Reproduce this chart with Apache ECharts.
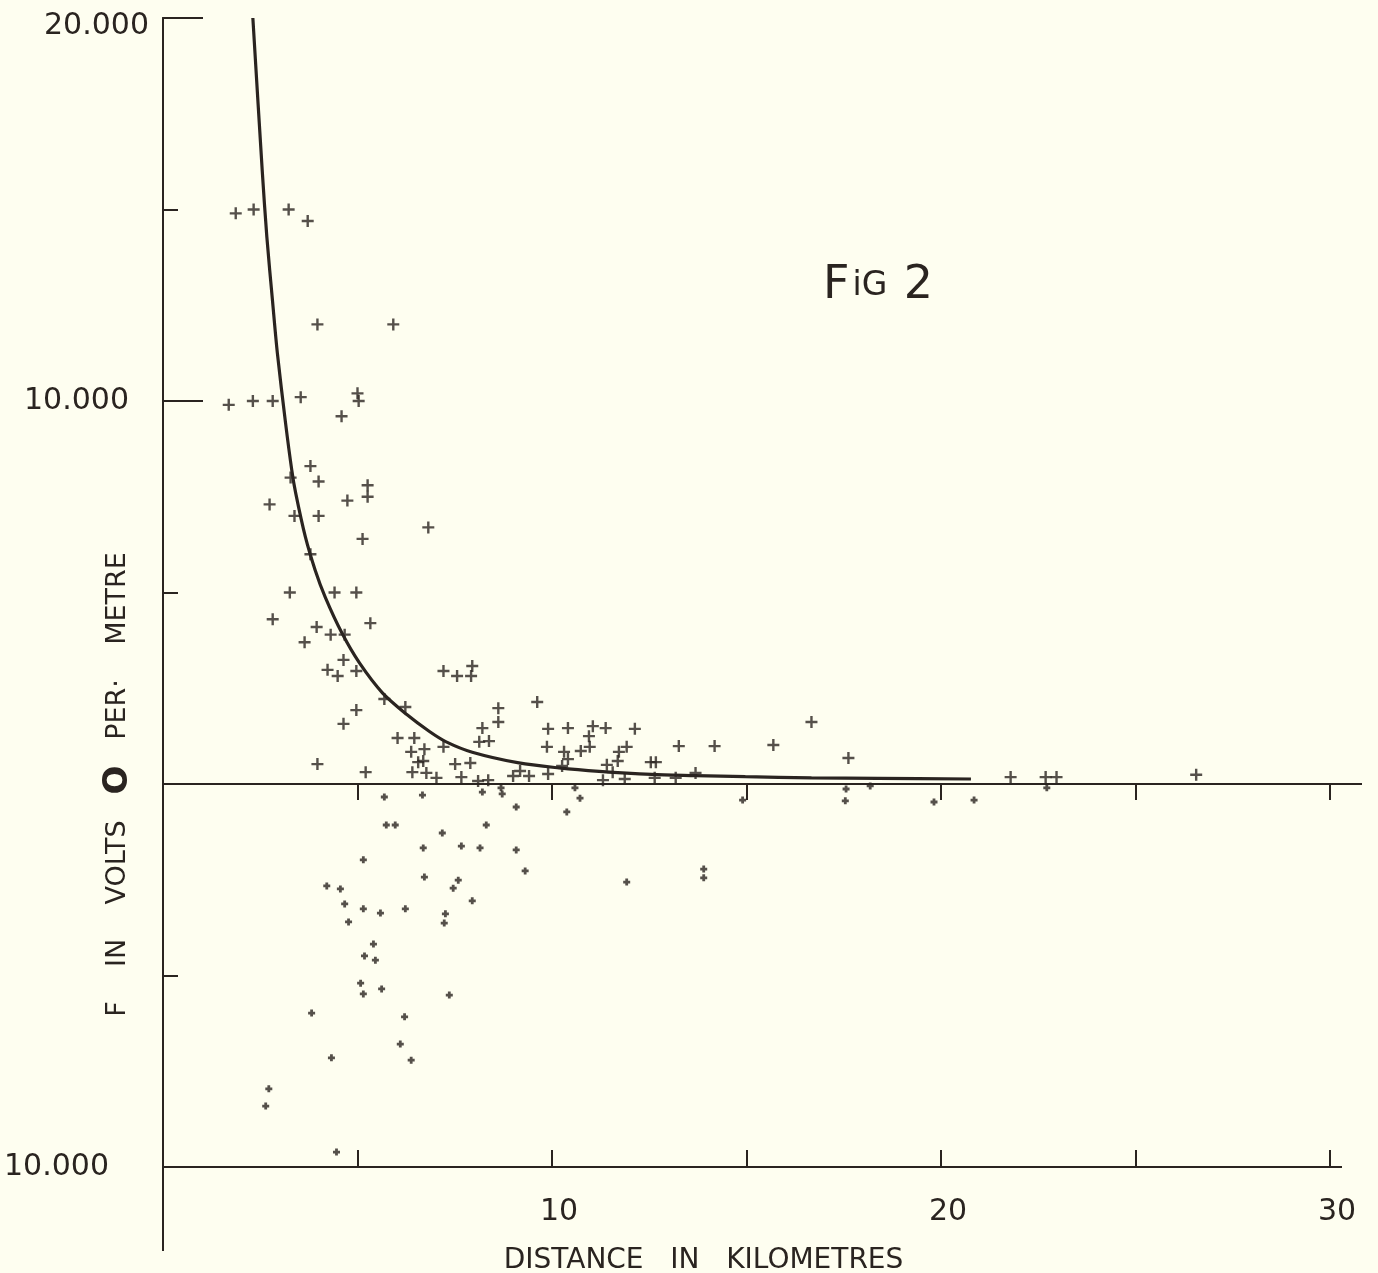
<!DOCTYPE html>
<html>
<head>
<meta charset="utf-8">
<script src="https://cdn.jsdelivr.net/npm/echarts@6/dist/echarts.min.js"></script>
<style>
  html, body { margin: 0; padding: 0; background: #fefef0; }
  #chart { width: 1378px; height: 1273px; }
</style>
</head>
<body>
<div id="chart"></div>
<script>
// distance (km) and field (V/m) read from the plate

// smooth mean curve
const curveDist = [2.31, 2.55, 2.67, 2.82, 2.94, 3.15, 3.31, 3.41, 3.66, 3.91, 4.17, 4.6, 5.05, 5.64, 6.26, 6.85, 7.28, 7.95, 9.15, 10.18, 11.21, 12.56, 13.69, 14.97, 16.67, 18.38, 20.77]
const curveField = [20000, 16030, 14280, 12560, 11250, 9430, 8200, 7600, 6450, 5590, 4880, 3940, 3160, 2380, 1820, 1370, 1100, 830, 550, 420, 330, 250, 220, 190, 160, 145, 130]

// observations above zero
const positiveReadings = [
  [1.87, 14900], [2.33, 15000], [3.23, 15000], [3.72, 14700], [3.97, 12000], [5.92, 12000],
  [1.69, 9900], [2.31, 10000], [2.82, 10000], [3.54, 10100], [5.0, 10200], [5.03, 10000],
  [4.59, 9600], [3.79, 8300], [3.28, 8000], [4.0, 7900], [5.26, 7800], [5.26, 7500],
  [4.74, 7400], [2.74, 7300], [3.38, 7000], [4.0, 7000], [5.13, 6400], [6.82, 6700],
  [3.79, 6000], [3.26, 5000], [4.41, 5000], [4.97, 5000], [5.33, 4200], [2.82, 4300],
  [3.95, 4100], [4.31, 3900], [4.67, 3900], [3.64, 3700], [4.64, 3240], [4.23, 2980],
  [4.49, 2820], [4.97, 2950], [5.69, 2220], [6.23, 2010], [4.97, 1930], [4.64, 1570],
  [6.03, 1200], [6.46, 1200], [6.38, 840], [6.72, 910], [6.56, 570], [6.41, 310],
  [6.77, 290], [3.97, 520], [5.21, 310], [7.21, 2950], [7.56, 2820], [7.95, 3080],
  [7.92, 2820], [8.62, 1980], [8.62, 1620], [9.62, 2140], [8.21, 1460], [8.13, 1100],
  [8.38, 1120], [7.21, 970], [6.69, 600], [7.51, 520], [7.9, 550], [7.03, 160],
  [7.67, 180], [8.1, 80], [8.36, 100], [9.0, 210], [9.18, 340], [9.41, 210],
  [9.9, 260], [9.9, 1440], [10.41, 1460], [11.05, 1510], [11.38, 1460], [12.13, 1440],
  [10.95, 1250], [9.87, 970], [10.31, 840], [10.41, 650], [10.74, 860], [10.97, 970],
  [11.72, 840], [11.69, 600], [11.92, 970], [11.41, 500], [10.26, 470], [11.56, 310],
  [12.54, 570], [12.67, 570], [13.26, 990], [11.31, 100], [11.87, 130], [12.64, 160],
  [13.18, 160], [13.69, 290], [14.18, 990], [15.69, 1020], [16.67, 1620], [17.62, 680],
  [21.79, 180], [22.69, 180], [22.97, 180], [26.56, 240]
]

// observations below zero
const negativeReadings = [
  [5.69, -340], [6.67, -290], [8.21, -210], [8.69, -100], [8.72, -260], [10.59, -100],
  [10.72, -370], [9.08, -600], [10.38, -730], [14.9, -420], [17.56, -130], [18.18, -50],
  [17.54, -440], [19.82, -470], [20.85, -420], [22.72, -100], [5.74, -1070], [5.97, -1070],
  [8.31, -1070], [7.18, -1280], [6.69, -1670], [7.67, -1620], [8.15, -1670], [9.08, -1720],
  [9.31, -2270], [5.15, -1980], [6.72, -2430], [7.59, -2510], [7.46, -2720], [4.21, -2660],
  [4.56, -2740], [4.67, -3130], [5.15, -3260], [5.59, -3370], [6.23, -3260], [4.77, -3600],
  [7.26, -3390], [7.23, -3630], [7.95, -3050], [5.41, -4180], [5.18, -4490], [5.46, -4600],
  [5.08, -5200], [5.15, -5480], [5.62, -5350], [7.36, -5510], [3.82, -5980], [6.21, -6080],
  [6.1, -6790], [6.38, -7210], [4.33, -7150], [2.72, -7960], [2.64, -8410], [4.46, -9610],
  [11.92, -2560], [13.9, -2220], [13.9, -2450]
]

const ink = '#2a2420'
const font = 'DejaVu Sans'
const plus = 'path://M4,0H6V4H10V6H6V10H4V6H0V4H4Z'
const blob = 'path://M3,0H7V3H10V7H7V10H3V7H0V3H3Z'

const chart = echarts.init(document.getElementById('chart'))

const option = {
  backgroundColor: '#fefef0',
  animation: false,
  title: {
    text: '{a|F}{b|iG}{a| 2}',
    left: 818,
    top: 258,
    textStyle: {
      fontWeight: 'normal',
      rich: {
        a: { fontFamily: font, fontSize: 46, fontWeight: 'normal', color: ink, padding: [0, 3, 0, 0] },
        b: { fontFamily: font, fontSize: 33, fontWeight: 'normal', color: ink, padding: [0, 2, 0, 0] }
      }
    }
  },
  grid: { left: 163, right: 48, top: 18, bottom: 106, outerBoundsMode: 'none' },
  xAxis: [
    {
      type: 'value',
      min: 0,
      max: 30,
      interval: 5,
      axisLine: { onZero: false, lineStyle: { color: ink, width: 2 } },
      axisTick: { inside: true, length: 17, lineStyle: { color: ink, width: 2 } },
      axisLabel: {
        margin: 30,
        fontFamily: font,
        fontSize: 30,
        color: ink,
        padding: [0, 0, 0, 14],
        formatter: v => (v > 0 && v % 10 === 0) ? String(v) : ''
      },
      splitLine: { show: false },
      name: 'DISTANCE   IN   KILOMETRES',
      nameLocation: 'middle',
      nameGap: 80,
      nameMoveOverlap: false,
      nameTextStyle: { fontFamily: font, fontSize: 28, color: ink, padding: [0, 86, 0, 0] }
    },
    {
      type: 'value',
      min: 0,
      max: 30,
      interval: 5,
      position: 'bottom',
      axisLine: { onZero: true, lineStyle: { color: ink, width: 2 } },
      axisTick: { inside: false, length: 16, lineStyle: { color: ink, width: 2 } },
      axisLabel: { show: false },
      splitLine: { show: false }
    }
  ],
  yAxis: [
    {
      type: 'value',
      position: 'left',
      min: -10000,
      max: 20000,
      interval: 5000,
      axisLine: { show: true, lineStyle: { color: ink, width: 2 } },
      axisTick: { inside: true, length: 15, lineStyle: { color: ink, width: 2 } },
      axisLabel: {
        margin: 14,
        color: ink,
        formatter: v => v === 20000 ? '{t|20.000}' : (v === 10000 ? '{m|10.000}' : (v === -10000 ? '{b|10.000}' : '')),
        rich: {
          t: { fontFamily: font, fontSize: 30, color: ink, padding: [16, 0, 0, 0] },
          m: { fontFamily: font, fontSize: 30, color: ink, padding: [0, 20, 0, 0] },
          b: { fontFamily: font, fontSize: 30, color: ink, padding: [0, 40, 0, 0] }
        }
      },
      splitLine: { show: false },
      name: '{t|F    IN    VOLTS   }{o|O}{t|   PER·    METRE}',
      nameLocation: 'middle',
      nameGap: 28,
      nameMoveOverlap: false,
      nameTextStyle: {
        padding: [0, 384, 0, 0],
        rich: {
          t: { fontFamily: font, fontSize: 27, color: ink },
          o: { fontFamily: font, fontSize: 34, fontWeight: 'bold', color: ink }
        }
      }
    },
    {
      type: 'value',
      position: 'left',
      offset: 0,
      min: -10000,
      max: 20000,
      interval: 10000,
      axisLine: { show: true, lineStyle: { color: ink, width: 2 } },
      axisTick: { inside: true, length: 40, lineStyle: { color: ink, width: 2 } },
      axisLabel: { show: false },
      splitLine: { show: false }
    }
  ],
  series: [
    {
      name: 'mean',
      type: 'line',
      data: curveDist.map((d, i) => [d, curveField[i]]),
      smooth: 0.3,
      showSymbol: false,
      lineStyle: { color: ink, width: 3.2 },
      z: 3
    },
    {
      name: 'positive',
      type: 'scatter',
      data: positiveReadings,
      symbol: plus,
      symbolSize: 12,
      itemStyle: { color: ink },
      z: 4
    },
    {
      name: 'negative',
      type: 'scatter',
      data: negativeReadings,
      symbol: blob,
      symbolSize: 7,
      itemStyle: { color: ink },
      z: 4
    }
  ]
}

chart.setOption(option)

// y axis runs on below the distance axis, zero line runs a little past 30 km
const bottomLeft = chart.convertToPixel({ gridIndex: 0 }, [0, -10000])
const zeroRight = chart.convertToPixel({ gridIndex: 0 }, [30, 0])
chart.setOption({
  graphic: [
    {
      type: 'line',
      shape: { x1: bottomLeft[0], y1: bottomLeft[1], x2: bottomLeft[0], y2: bottomLeft[1] + 84 },
      style: { stroke: ink, lineWidth: 2 }
    },
    {
      type: 'line',
      shape: { x1: zeroRight[0], y1: zeroRight[1], x2: zeroRight[0] + 32, y2: zeroRight[1] },
      style: { stroke: ink, lineWidth: 2 }
    },
    {
      type: 'line',
      shape: { x1: zeroRight[0], y1: bottomLeft[1], x2: zeroRight[0] + 12, y2: bottomLeft[1] },
      style: { stroke: ink, lineWidth: 2 }
    }
  ]
})
</script>
</body>
</html>
